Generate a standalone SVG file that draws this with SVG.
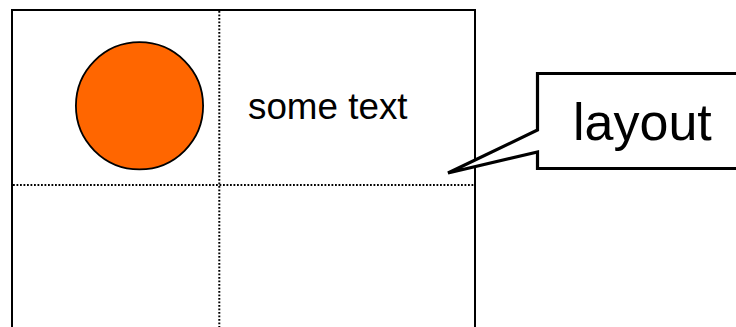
<svg xmlns="http://www.w3.org/2000/svg" width="736" height="327" viewBox="0 0 736 327">
<style>
.dot{stroke:#000;stroke-width:2;stroke-dasharray:1.8 1.7;fill:none}
.txt{font-family:"Liberation Sans",Arial,sans-serif;fill:#000}
</style>
<rect width="736" height="327" fill="#fff"/>
<g id="frame">
<rect x="12" y="10" width="463" height="340" fill="none" stroke="#000" stroke-width="2"/>
</g>
<g id="grid">
<line class="dot" x1="219.3" y1="11" x2="219.3" y2="327"/>
<line class="dot" x1="13" y1="185" x2="474" y2="185"/>
</g>
<g id="circle">
<circle cx="139.5" cy="105.8" r="63.6" fill="#ff6600" stroke="#000" stroke-width="1.8"/>
</g>
<g id="text">
<text class="txt" x="248" y="119" font-size="36.8">some text</text>
</g>
<g id="callout">
<path d="M760 73.5 H537.5 V130 L448 173 L537.5 152 V168.5 H760" fill="#fff" stroke="#000" stroke-width="3.2" stroke-linejoin="miter"/>
<text class="txt" x="573" y="140" font-size="52">layout</text>
</g>
</svg>
